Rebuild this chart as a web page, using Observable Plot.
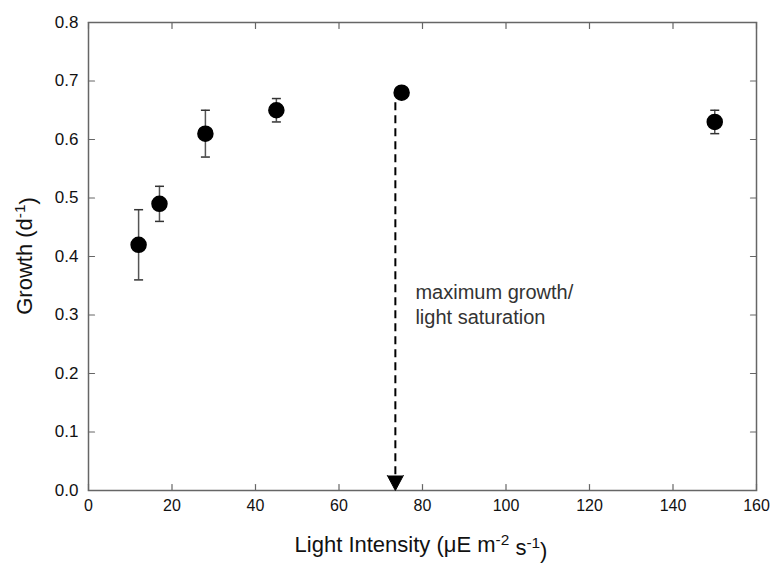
<!DOCTYPE html>
<html><head><meta charset="utf-8">
<script src="https://cdn.jsdelivr.net/npm/d3@7"></script>
<script src="https://cdn.jsdelivr.net/npm/@observablehq/plot@0.6"></script>
<style>body{margin:0;background:#fff;}</style>
</head><body><div id="chart"></div>
<script>
// Data
const intensity = [12, 17, 28, 45, 75, 150];
const growth    = [0.42, 0.49, 0.61, 0.65, 0.68, 0.63];
const errLow    = [0.36, 0.46, 0.57, 0.63, 0.68, 0.61];
const errHigh   = [0.48, 0.52, 0.65, 0.67, 0.68, 0.65];
const xTicks = [0, 20, 40, 60, 80, 100, 120, 140, 160];
const yTicks = [0, 0.1, 0.2, 0.3, 0.4, 0.5, 0.6, 0.7, 0.8];
const arrowX = [73.5];
const arrowTop = [0.663];
const arrowBottom = [0];
const annotText = ["maximum growth/", "light saturation"];
const annotX = [78.3, 78.3];
const annotY = [0.328, 0.285];

const points = intensity.map((x, i) => ({x, y: growth[i], lo: errLow[i], hi: errHigh[i]}));
const annot = annotText.map((t, i) => ({t, x: annotX[i], y: annotY[i]}));
const arrow = arrowX.map((x, i) => ({x, top: arrowTop[i], bottom: arrowBottom[i]}));
const withErr = points.filter(d => d.hi > d.lo);

const capSymbol = {draw(ctx, size) { const w = Math.sqrt(size / Math.PI); ctx.moveTo(-w, 0); ctx.lineTo(w, 0); }};
const tickShape = {draw(ctx, l) { ctx.moveTo(0, 0); ctx.lineTo(0, -l); }};

const font = "'Liberation Sans', Arial, sans-serif";
const W = 775, H = 563;
const tickStyle = {length: 6, anchor: "start", shape: tickShape, stroke: "#666", strokeWidth: 1.2};
const chart = Plot.plot({
  width: W, height: H,
  marginLeft: 88, marginRight: 19, marginTop: 22, marginBottom: 73,
  style: {fontFamily: font, fontSize: "16px", color: "#111", background: "#fff"},
  x: {domain: [0, 160]},
  y: {domain: [0, 0.8]},
  marks: [
    Plot.axisX(xTicks, {anchor: "bottom", tickSize: 0, tickPadding: 9, fill: "#111", fontSize: 16, label: null, tickFormat: d3.format("d")}),
    Plot.axisY(yTicks, {anchor: "left", tickSize: 0, tickPadding: 10, fill: "#111", fontSize: 17, label: null, tickFormat: d3.format(".1f")}),
    Plot.vector(xTicks, {x: d => d, y: () => 0, rotate: 0, ...tickStyle}),
    Plot.vector(xTicks, {x: d => d, y: () => 0.8, rotate: 180, ...tickStyle}),
    Plot.vector(yTicks, {x: () => 0, y: d => d, rotate: 90, ...tickStyle}),
    Plot.vector(yTicks, {x: () => 160, y: d => d, rotate: 270, ...tickStyle}),
    Plot.frame({stroke: "#666", strokeWidth: 1.5}),
    Plot.ruleX(withErr, {x: "x", y1: "lo", y2: "hi", stroke: "#555", strokeWidth: 1.5}),
    Plot.dot(withErr, {x: "x", y: "hi", symbol: capSymbol, r: 4.5, stroke: "#333", strokeWidth: 1.5}),
    Plot.dot(withErr, {x: "x", y: "lo", symbol: capSymbol, r: 4.5, stroke: "#333", strokeWidth: 1.5}),
    Plot.ruleX(arrow, {x: "x", y1: "top", y2: d => d.bottom + 0.026, stroke: "#000", strokeWidth: 2, strokeDasharray: "8,5"}),
    Plot.vector(arrow, {x: "x", y: "bottom", length: 15, rotate: 180, anchor: "end", shape: "spike", r: 8, fill: "#000", stroke: "#000", strokeWidth: 1}),
    Plot.dot(points, {x: "x", y: "y", r: 7.5, fill: "#000", stroke: "#000"}),
    Plot.text(annot, {x: "x", y: "y", text: "t", textAnchor: "start", lineAnchor: "bottom", fontSize: 20, fill: "#333"})
  ]
});

const svg = d3.select(chart);
const ylab = svg.append("text")
  .attr("transform", "translate(32,256) rotate(-90)")
  .attr("text-anchor", "middle")
  .attr("font-family", font).attr("font-size", 22).attr("fill", "#111");
ylab.append("tspan").text("Growth (d");
ylab.append("tspan").attr("dy", "-0.45em").attr("font-size", "0.7em").text("-1");
ylab.append("tspan").attr("dy", "0.45em").text(")");

const xlab = svg.append("text")
  .attr("x", 421).attr("y", 552)
  .attr("text-anchor", "middle")
  .attr("font-family", font).attr("font-size", 22).attr("fill", "#111");
xlab.append("tspan").text("Light Intensity (\u03bcE m");
xlab.append("tspan").attr("dy", "-0.45em").attr("font-size", "0.7em").text("-2");
xlab.append("tspan").attr("dy", "0.45em").text(" s");
xlab.append("tspan").attr("dy", "-0.45em").attr("font-size", "0.7em").text("-1");
xlab.append("tspan").attr("dy", "0.45em").text(")");

document.getElementById("chart").appendChild(chart);
</script>
</body></html>
